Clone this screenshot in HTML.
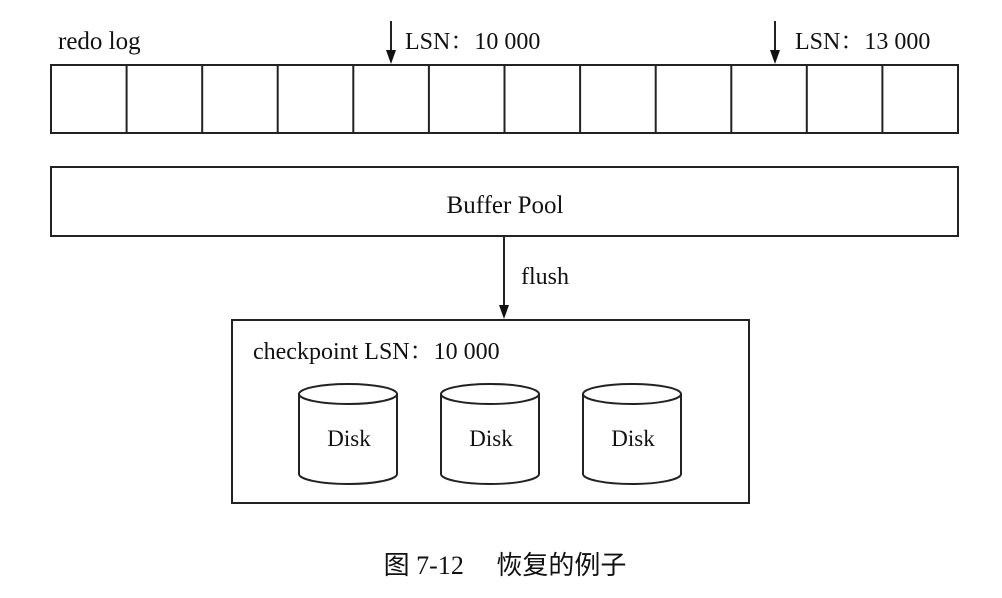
<!DOCTYPE html>
<html><head><meta charset="utf-8"><style>
html,body{margin:0;padding:0;background:#fff;}
svg{display:block}
text{font-family:"Liberation Serif","Noto Serif CJK SC",serif;font-size:24px;fill:#111}
</style></head><body>
<svg width="1002" height="598" viewBox="0 0 1002 598" xmlns="http://www.w3.org/2000/svg">
<g stroke="#222" stroke-width="2" fill="none">
<rect x="51" y="65" width="907" height="68"/>
<line x1="126.6" y1="65" x2="126.6" y2="133"/><line x1="202.2" y1="65" x2="202.2" y2="133"/>
<line x1="277.7" y1="65" x2="277.7" y2="133"/><line x1="353.3" y1="65" x2="353.3" y2="133"/>
<line x1="428.9" y1="65" x2="428.9" y2="133"/><line x1="504.5" y1="65" x2="504.5" y2="133"/>
<line x1="580.1" y1="65" x2="580.1" y2="133"/><line x1="655.7" y1="65" x2="655.7" y2="133"/>
<line x1="731.3" y1="65" x2="731.3" y2="133"/><line x1="806.8" y1="65" x2="806.8" y2="133"/>
<line x1="882.4" y1="65" x2="882.4" y2="133"/>
<rect x="51" y="167" width="907" height="69"/>
<rect x="232" y="320" width="517" height="183"/>
<line x1="391" y1="21" x2="391" y2="52"/>
<line x1="775" y1="21" x2="775" y2="52"/>
<line x1="504" y1="236" x2="504" y2="307"/>
</g>
<g fill="#111">
<path d="M386,50 L396,50 L391,64 Z"/>
<path d="M770,50 L780,50 L775,64 Z"/>
<path d="M499,305 L509,305 L504,319 Z"/>
</g>
<g stroke="#222" stroke-width="2" fill="#fff">
<path d="M299,394 L299,474 A49,10 0 0 0 397,474 L397,394"/><ellipse cx="348" cy="394" rx="49" ry="10"/>
<path d="M441,394 L441,474 A49,10 0 0 0 539,474 L539,394"/><ellipse cx="490" cy="394" rx="49" ry="10"/>
<path d="M583,394 L583,474 A49,10 0 0 0 681,474 L681,394"/><ellipse cx="632" cy="394" rx="49" ry="10"/>
</g>
<text x="58" y="49" style="font-size:25px">redo log</text>
<text x="405" y="49">LSN：10 000</text>
<text x="795" y="49">LSN：13 000</text>
<text x="505" y="213" text-anchor="middle" style="font-size:25px">Buffer Pool</text>
<text x="521" y="284">flush</text>
<text x="253" y="359">checkpoint LSN：10 000</text>
<text x="349" y="446" text-anchor="middle" style="font-size:23px">Disk</text>
<text x="491" y="446" text-anchor="middle" style="font-size:23px">Disk</text>
<text x="633" y="446" text-anchor="middle" style="font-size:23px">Disk</text>
<text x="505" y="574" text-anchor="middle" style="font-family:'Liberation Serif','Noto Sans CJK SC',sans-serif;font-size:26px">图 7-12　 恢复的例子</text>
</svg>
</body></html>
